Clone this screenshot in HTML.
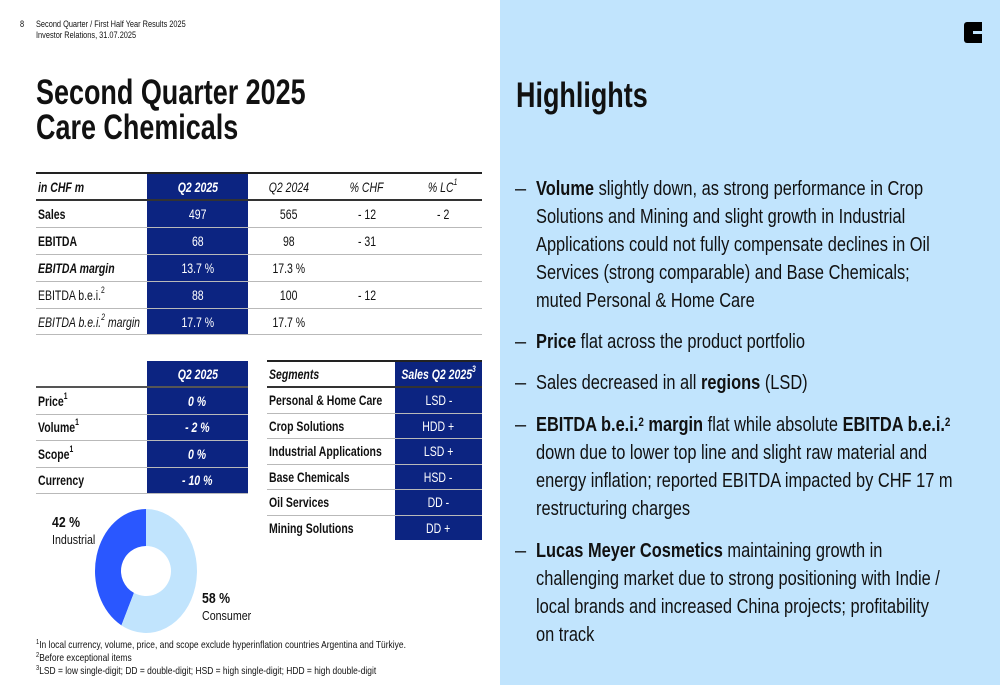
<!DOCTYPE html>
<html><head><meta charset="utf-8">
<style>
*{margin:0;padding:0;box-sizing:border-box}
body{width:1000px;height:685px;position:relative;background:#fff;font-family:"Liberation Sans Narrow","Liberation Sans",sans-serif;color:#111;overflow:hidden}
.a{position:absolute;white-space:nowrap}
.sx{transform:scaleX(.82);transform-origin:left top}
.st{transform:scaleX(.77);transform-origin:left top}
.n{display:inline-block;transform:scaleX(.75);transform-origin:left center;white-space:nowrap}
.nc{display:inline-block;transform:scaleX(.75);transform-origin:center center;white-space:nowrap}
.row{position:absolute;border-bottom:1.5px solid #b9b9b9;font-size:14px}
.cell{position:absolute;top:0;height:100%;display:flex;align-items:center}
.blue{background:#0c2481;color:#fff;justify-content:center}
.c{justify-content:center}
sup{font-size:9px;vertical-align:top;position:relative;top:-2px}
.hl{font-size:20px;line-height:28px}
.hl sup{font-size:12px;top:-3px}
.fn{font-size:10.3px}
.fn sup{font-size:7px;top:-1px}
</style></head><body>
<div class="a sx" style="left:20px;top:19px;font-size:9px">8</div>
<div class="a sx" style="left:36px;top:19px;font-size:9px;line-height:11px">Second Quarter / First Half Year Results 2025<br>Investor Relations, 31.07.2025</div>
<div class="a st" style="left:36px;top:75px;font-size:35px;font-weight:bold;line-height:35px">Second Quarter 2025<br>Care Chemicals</div>

<div>
<div class="a" style="left:36px;top:172px;width:446px;height:2px;background:#222"></div>
<div class="row" style="left:36px;top:174px;width:446px;height:27px;border-bottom:2px solid #333;font-style:italic">
 <div class="cell" style="left:2px;font-weight:bold"><span class="n">in CHF m</span></div>
 <div class="cell blue" style="left:111px;width:101px;font-weight:bold"><span class="nc">Q2 2025</span></div>
 <div class="cell c" style="left:212px;width:82px"><span class="nc">Q2 2024</span></div>
 <div class="cell c" style="left:294px;width:74px"><span class="nc">% CHF</span></div>
 <div class="cell c" style="left:368px;width:78px"><span class="nc">% LC<sup>1</sup></span></div>
</div>
<div class="row" style="left:36px;top:201px;width:446px;height:27px">
 <div class="cell" style="left:2px;font-weight:bold"><span class="n">Sales</span></div>
 <div class="cell blue" style="left:111px;width:101px"><span class="nc">497</span></div>
 <div class="cell c" style="left:212px;width:82px"><span class="nc">565</span></div>
 <div class="cell c" style="left:294px;width:74px"><span class="nc">- 12</span></div>
 <div class="cell c" style="left:368px;width:78px"><span class="nc">- 2</span></div>
</div>
<div class="row" style="left:36px;top:228px;width:446px;height:27px">
 <div class="cell" style="left:2px;font-weight:bold"><span class="n">EBITDA</span></div>
 <div class="cell blue" style="left:111px;width:101px"><span class="nc">68</span></div>
 <div class="cell c" style="left:212px;width:82px"><span class="nc">98</span></div>
 <div class="cell c" style="left:294px;width:74px"><span class="nc">- 31</span></div>
</div>
<div class="row" style="left:36px;top:255px;width:446px;height:27px">
 <div class="cell" style="left:2px;font-weight:bold;font-style:italic"><span class="n">EBITDA margin</span></div>
 <div class="cell blue" style="left:111px;width:101px"><span class="nc">13.7 %</span></div>
 <div class="cell c" style="left:212px;width:82px"><span class="nc">17.3 %</span></div>
</div>
<div class="row" style="left:36px;top:282px;width:446px;height:27px">
 <div class="cell" style="left:2px"><span class="n">EBITDA b.e.i.<sup>2</sup></span></div>
 <div class="cell blue" style="left:111px;width:101px"><span class="nc">88</span></div>
 <div class="cell c" style="left:212px;width:82px"><span class="nc">100</span></div>
 <div class="cell c" style="left:294px;width:74px"><span class="nc">- 12</span></div>
</div>
<div class="row" style="left:36px;top:309px;width:446px;height:26px">
 <div class="cell" style="left:2px;font-style:italic"><span class="n">EBITDA b.e.i.<sup>2</sup>&nbsp;margin</span></div>
 <div class="cell blue" style="left:111px;width:101px"><span class="nc">17.7 %</span></div>
 <div class="cell c" style="left:212px;width:82px"><span class="nc">17.7 %</span></div>
</div>
</div>

<div>
<div class="row" style="left:36px;top:361px;width:212px;height:27px;border-bottom:2px solid #555">
 <div class="cell blue" style="left:111px;width:101px;font-weight:bold;font-style:italic"><span class="nc">Q2 2025</span></div>
</div>
<div class="row" style="left:36px;top:388px;width:212px;height:26.5px">
 <div class="cell" style="left:2px;font-weight:bold"><span class="n">Price<sup>1</sup></span></div>
 <div class="cell blue" style="left:111px;width:101px;font-weight:bold;font-style:italic"><span class="nc">0 %</span></div>
</div>
<div class="row" style="left:36px;top:414.5px;width:212px;height:26.5px">
 <div class="cell" style="left:2px;font-weight:bold"><span class="n">Volume<sup>1</sup></span></div>
 <div class="cell blue" style="left:111px;width:101px;font-weight:bold;font-style:italic"><span class="nc">- 2 %</span></div>
</div>
<div class="row" style="left:36px;top:441px;width:212px;height:26.5px">
 <div class="cell" style="left:2px;font-weight:bold"><span class="n">Scope<sup>1</sup></span></div>
 <div class="cell blue" style="left:111px;width:101px;font-weight:bold;font-style:italic"><span class="nc">0 %</span></div>
</div>
<div class="row" style="left:36px;top:467.5px;width:212px;height:26px">
 <div class="cell" style="left:2px;font-weight:bold"><span class="n">Currency</span></div>
 <div class="cell blue" style="left:111px;width:101px;font-weight:bold;font-style:italic"><span class="nc">- 10 %</span></div>
</div>
</div>

<div>
<div class="a" style="left:267px;top:360px;width:215px;height:2px;background:#222"></div>
<div class="row" style="left:267px;top:362px;width:215px;height:26px;border-bottom:2px solid #333">
 <div class="cell" style="left:2px;font-weight:bold;font-style:italic"><span class="n">Segments</span></div>
 <div class="cell blue" style="left:128px;width:87px;font-weight:bold;font-style:italic"><span class="nc">Sales Q2 2025<sup>3</sup></span></div>
</div>
<div class="row" style="left:267px;top:388px;width:215px;height:25.5px"><div class="cell" style="left:2px;font-weight:bold"><span class="n">Personal &amp; Home Care</span></div><div class="cell blue" style="left:128px;width:87px"><span class="nc">LSD -</span></div></div>
<div class="row" style="left:267px;top:413.5px;width:215px;height:25.5px"><div class="cell" style="left:2px;font-weight:bold"><span class="n">Crop Solutions</span></div><div class="cell blue" style="left:128px;width:87px"><span class="nc">HDD +</span></div></div>
<div class="row" style="left:267px;top:439px;width:215px;height:25.5px"><div class="cell" style="left:2px;font-weight:bold"><span class="n">Industrial Applications</span></div><div class="cell blue" style="left:128px;width:87px"><span class="nc">LSD +</span></div></div>
<div class="row" style="left:267px;top:464.5px;width:215px;height:25.5px"><div class="cell" style="left:2px;font-weight:bold"><span class="n">Base Chemicals</span></div><div class="cell blue" style="left:128px;width:87px"><span class="nc">HSD -</span></div></div>
<div class="row" style="left:267px;top:490px;width:215px;height:25.5px"><div class="cell" style="left:2px;font-weight:bold"><span class="n">Oil Services</span></div><div class="cell blue" style="left:128px;width:87px"><span class="nc">DD -</span></div></div>
<div class="row" style="left:267px;top:515.5px;width:215px;height:24px;border-bottom:none"><div class="cell" style="left:2px;font-weight:bold"><span class="n">Mining Solutions</span></div><div class="cell blue" style="left:128px;width:87px"><span class="nc">DD +</span></div></div>
</div>

<svg id="donut" class="a" style="left:0;top:0" width="500" height="685"></svg>
<div class="a sx" style="left:52px;top:514px;font-size:15px;line-height:17px"><b>42 %</b><br><span style="font-size:13px">Industrial</span></div>
<div class="a sx" style="left:202px;top:590px;font-size:15px;line-height:17px"><b>58 %</b><br><span style="font-size:13px">Consumer</span></div>

<div class="a fn sx" style="left:36px;top:640px"><sup>1</sup>In local currency, volume, price, and scope exclude hyperinflation countries Argentina and Türkiye.</div>
<div class="a fn sx" style="left:36px;top:653px"><sup>2</sup>Before exceptional items</div>
<div class="a fn sx" style="left:36px;top:666px"><sup>3</sup>LSD = low single-digit; DD = double-digit; HSD = high single-digit; HDD = high double-digit</div>

<div class="a" style="left:500px;top:0;width:500px;height:685px;background:#c1e4fd"></div>
<div class="a" style="left:964px;top:22px;width:18px;height:21px;background:#000;border-radius:3px 0 0 3px"><div style="position:absolute;left:9px;top:9px;width:9px;height:3px;background:#c1e4fd"></div></div>
<div class="a st" style="left:516px;top:76px;font-size:35px;font-weight:bold">Highlights</div>

<div>
<div class="a hl" style="left:515px;top:175px">–</div>
<div class="a hl sx" style="left:536px;top:175px"><b>Volume</b> slightly down, as strong performance in Crop<br>Solutions and Mining and slight growth in Industrial<br>Applications could not fully compensate declines in Oil<br>Services (strong comparable) and Base Chemicals;<br>muted Personal &amp; Home Care</div>
<div class="a hl" style="left:515px;top:328px">–</div>
<div class="a hl sx" style="left:536px;top:328px"><b>Price</b> flat across the product portfolio</div>
<div class="a hl" style="left:515px;top:369px">–</div>
<div class="a hl sx" style="left:536px;top:369px">Sales decreased in all <b>regions</b> (LSD)</div>
<div class="a hl" style="left:515px;top:411px">–</div>
<div class="a hl sx" style="left:536px;top:411px"><b>EBITDA b.e.i.<sup>2</sup> margin</b> flat while absolute <b>EBITDA b.e.i.<sup>2</sup></b><br>down due to lower top line and slight raw material and<br>energy inflation; reported EBITDA impacted by CHF 17 m<br>restructuring charges</div>
<div class="a hl" style="left:515px;top:537px">–</div>
<div class="a hl sx" style="left:536px;top:537px"><b>Lucas Meyer Cosmetics</b> maintaining growth in<br>challenging market due to strong positioning with Indie /<br>local brands and increased China projects; profitability<br>on track</div>
</div>

<script>
const segments = ["Industrial", "Consumer"];
const shares = [42, 58];
const colors = ["#2a57ff", "#c1e4fd"];
const svg = document.getElementById('donut');
const NS = 'http://www.w3.org/2000/svg';
const cx = 146, cy = 571, rx = 51, ry = 62, ir = 25;
const total = shares.reduce((a, b) => a + b, 0);
function pt(ang, a, b) { return [cx + a * Math.sin(ang), cy - b * Math.cos(ang)]; }
let start = 0;
shares.forEach((v, i) => {
  const sweep = v / total * 2 * Math.PI;
  const a0 = -start, a1 = -(start + sweep);
  const large = sweep > Math.PI ? 1 : 0;
  const p0 = pt(a0, rx, ry), p1 = pt(a1, rx, ry), q1 = pt(a1, ir, ir), q0 = pt(a0, ir, ir);
  const d = `M${p0[0]},${p0[1]} A${rx},${ry} 0 ${large} 0 ${p1[0]},${p1[1]} L${q1[0]},${q1[1]} A${ir},${ir} 0 ${large} 1 ${q0[0]},${q0[1]} Z`;
  const path = document.createElementNS(NS, 'path');
  path.setAttribute('d', d);
  path.setAttribute('fill', colors[i]);
  
  
  svg.appendChild(path);
  start += sweep;
});
</script>
</body></html>
